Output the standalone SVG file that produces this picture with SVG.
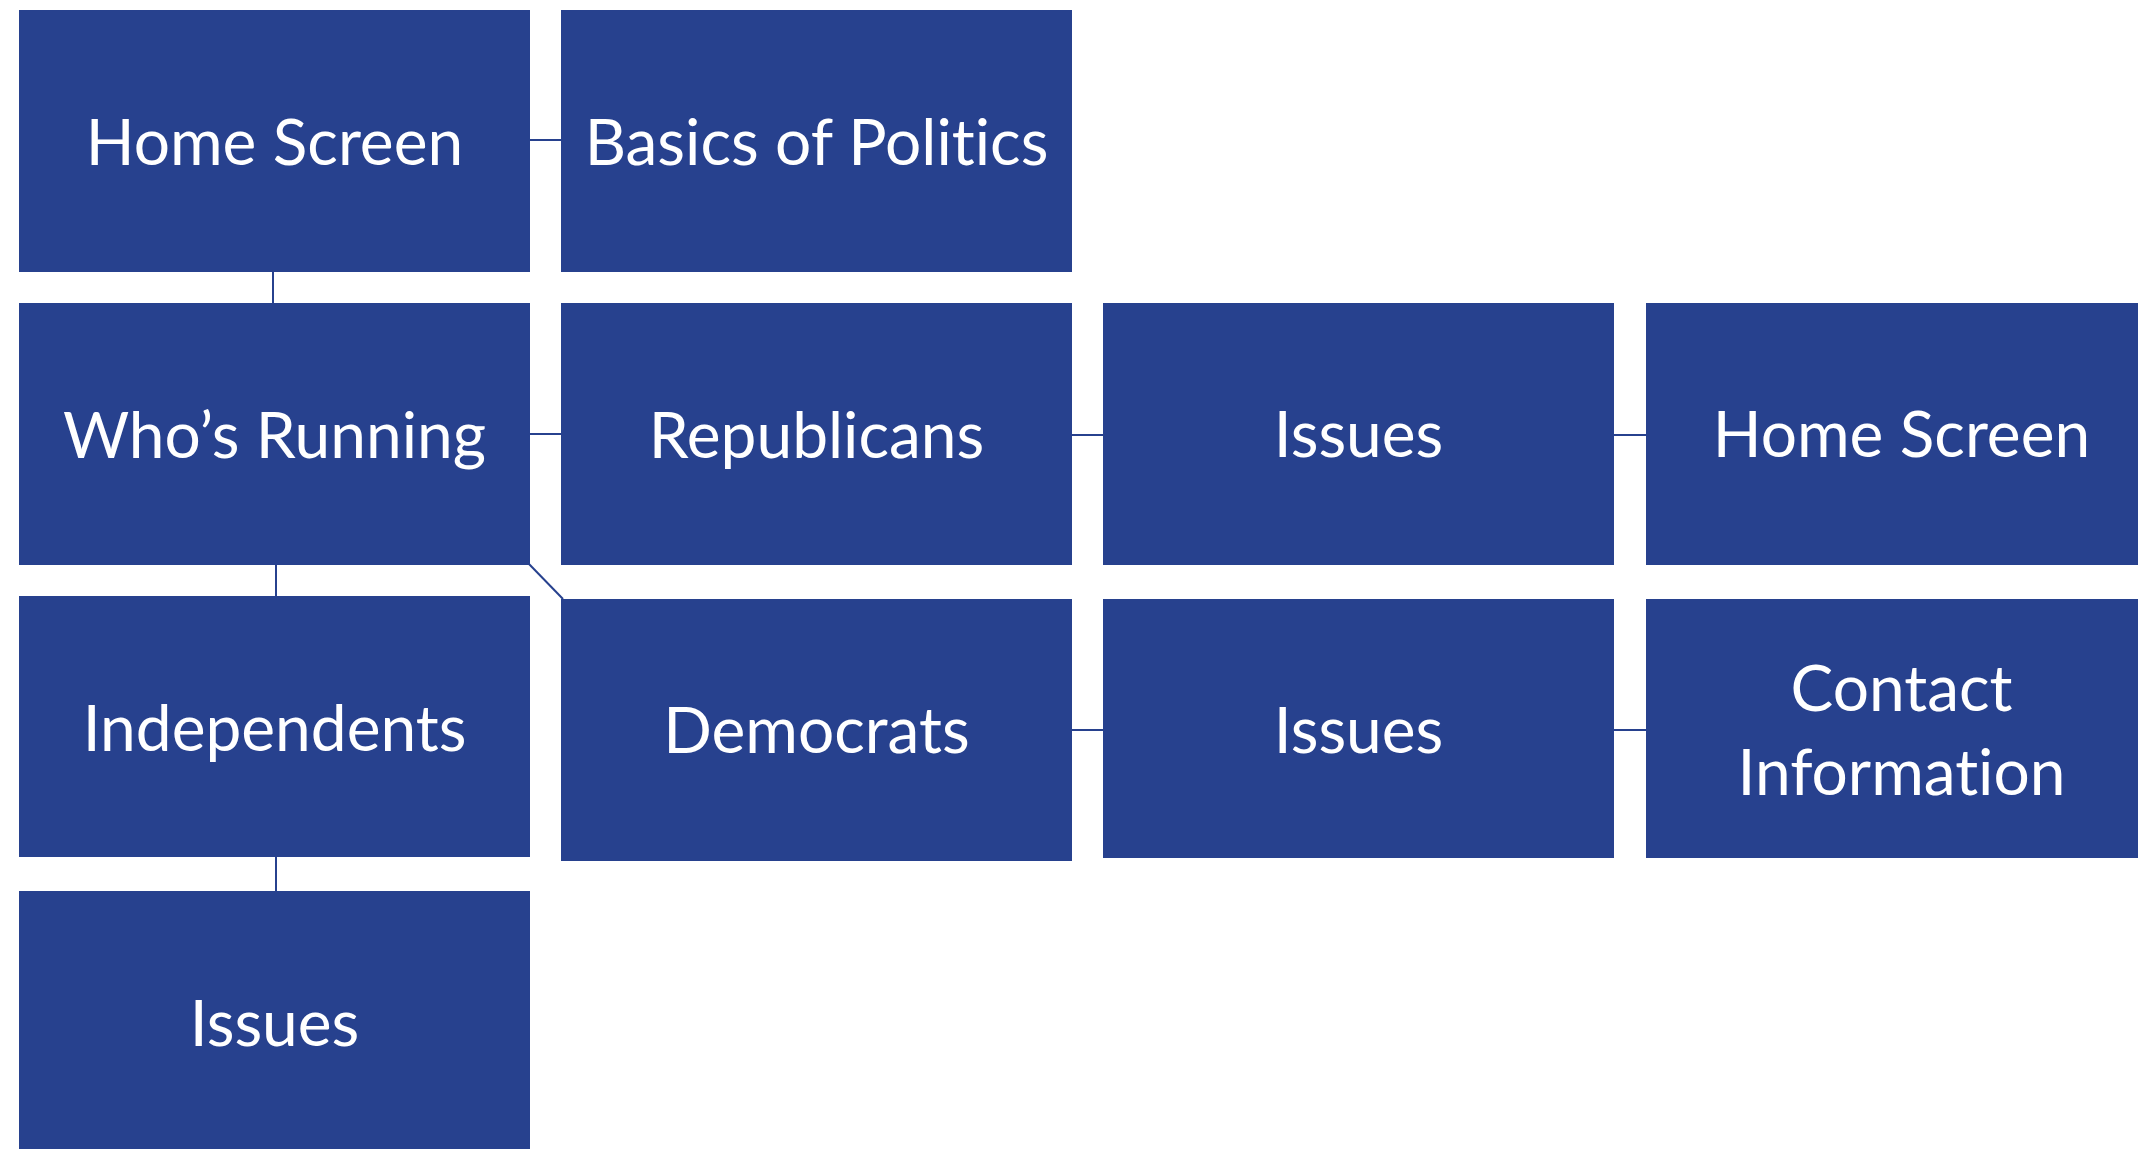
<svg xmlns="http://www.w3.org/2000/svg" width="2138" height="1149" viewBox="0 0 2138 1149">
<style>
.box{fill:#27418E}
.t{font-family:Lato,"Open Sans",sans-serif;font-size:64px;fill:#FFFFFF;text-anchor:middle;font-variant-ligatures:none;font-feature-settings:"liga" 0,"clig" 0}
.c{stroke:#27418E;stroke-width:2;fill:none}
</style>
<rect width="2138" height="1149" fill="#FFFFFF"/>
<g id="connectors">
<line class="c" x1="530" y1="140" x2="561" y2="140"/>
<line class="c" x1="273" y1="272" x2="273" y2="303"/>
<line class="c" x1="530" y1="434" x2="561" y2="434"/>
<line class="c" x1="276" y1="565" x2="276" y2="596"/>
<line class="c" x1="529" y1="564" x2="563" y2="599"/>
<line class="c" x1="1072" y1="435" x2="1103" y2="435"/>
<line class="c" x1="1614" y1="435" x2="1646" y2="435"/>
<line class="c" x1="1072" y1="730" x2="1103" y2="730"/>
<line class="c" x1="1614" y1="730" x2="1646" y2="730"/>
<line class="c" x1="276" y1="857" x2="276" y2="891"/>
</g>
<g id="home">
<rect class="box" x="19" y="10" width="511" height="262"/>
<text class="t" x="274.5" y="165">Home Screen</text>
</g>
<g id="basics">
<rect class="box" x="561" y="10" width="511" height="262"/>
<text class="t" x="816.5" y="165">Basics of Politics</text>
</g>
<g id="whos-running">
<rect class="box" x="19" y="303" width="511" height="262"/>
<text class="t" x="274.5" y="458">Who’s Running</text>
</g>
<g id="republicans">
<rect class="box" x="561" y="303" width="511" height="262"/>
<text class="t" x="816.5" y="458">Republicans</text>
</g>
<g id="issues-rep">
<rect class="box" x="1103" y="303" width="511" height="262"/>
<text class="t" x="1358.5" y="457">Issues</text>
</g>
<g id="home-2">
<rect class="box" x="1646" y="303" width="511" height="262"/>
<text class="t" x="1901.5" y="457">Home Screen</text>
</g>
<g id="independents">
<rect class="box" x="19" y="596" width="511" height="261"/>
<text class="t" x="274.5" y="751">Independents</text>
</g>
<g id="democrats">
<rect class="box" x="561" y="599" width="511" height="262"/>
<text class="t" x="816.5" y="753">Democrats</text>
</g>
<g id="issues-dem">
<rect class="box" x="1103" y="599" width="511" height="259"/>
<text class="t" x="1358.5" y="753">Issues</text>
</g>
<g id="contact">
<rect class="box" x="1646" y="599" width="511" height="259"/>
<text class="t" x="1901.5" y="711">Contact</text>
<text class="t" x="1901.5" y="795">Information</text>
</g>
<g id="issues-ind">
<rect class="box" x="19" y="891" width="511" height="262"/>
<text class="t" x="274.5" y="1046">Issues</text>
</g>
</svg>
